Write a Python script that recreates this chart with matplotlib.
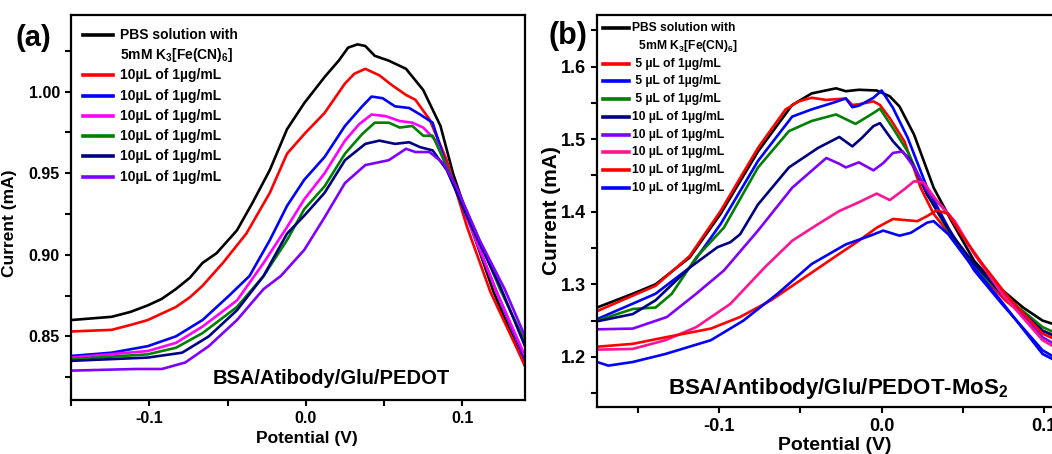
import matplotlib
matplotlib.use('Agg')
import matplotlib.pyplot as plt
from matplotlib.ticker import MultipleLocator, FormatStrFormatter

plt.rcParams['font.family'] = ['Liberation Sans', 'DejaVu Sans']
plt.rcParams['font.weight'] = 'bold'
plt.rcParams['axes.labelweight'] = 'bold'
plt.rcParams['mathtext.fontset'] = 'custom'
plt.rcParams['mathtext.rm'] = 'Liberation Sans:bold'
plt.rcParams['mathtext.bf'] = 'Liberation Sans:bold'
plt.rcParams['mathtext.it'] = 'Liberation Sans:bold'

# ---- panel (a): BSA/Atibody/Glu/PEDOT ----
a_black_x = [-0.150, -0.137, -0.124, -0.112, -0.101, -0.092, -0.083, -0.074, -0.066, -0.057, -0.044, -0.034,
             -0.023, -0.012, -0.001, 0.012, 0.021, 0.027, 0.033, 0.038, 0.044, 0.053, 0.064, 0.075,
             0.086, 0.094, 0.107, 0.120, 0.140]
a_black_y = [0.860, 0.861, 0.862, 0.865, 0.869, 0.873, 0.879, 0.886, 0.895, 0.901, 0.915, 0.932,
             0.952, 0.977, 0.993, 1.009, 1.019, 1.027, 1.029, 1.028, 1.022, 1.019, 1.014, 1.001,
             0.979, 0.950, 0.913, 0.877, 0.832]
a_red_x = [-0.150, -0.124, -0.112, -0.101, -0.092, -0.083, -0.074, -0.066, -0.053, -0.038, -0.023, -0.012,
           -0.001, 0.012, 0.025, 0.031, 0.038, 0.047, 0.055, 0.064, 0.070, 0.079, 0.090, 0.103, 0.118, 0.140]
a_red_y = [0.853, 0.854, 0.857, 0.860, 0.864, 0.868, 0.874, 0.881, 0.895, 0.913, 0.938, 0.962,
           0.974, 0.987, 1.005, 1.011, 1.014, 1.010, 1.004, 0.998, 0.995, 0.983, 0.958, 0.917, 0.877, 0.832]
a_blue_x = [-0.150, -0.124, -0.101, -0.092, -0.083, -0.066, -0.049, -0.036, -0.023, -0.012, -0.001, 0.012,
            0.025, 0.036, 0.042, 0.049, 0.057, 0.066, 0.073, 0.081, 0.090, 0.107, 0.122, 0.140]
a_blue_y = [0.838, 0.840, 0.844, 0.847, 0.850, 0.860, 0.875, 0.887, 0.909, 0.930, 0.946, 0.960,
            0.979, 0.991, 0.997, 0.996, 0.991, 0.990, 0.986, 0.981, 0.954, 0.913, 0.877, 0.836]
a_mag_x = [-0.150, -0.101, -0.083, -0.066, -0.044, -0.027, -0.012, -0.001, 0.012, 0.025, 0.034,
           0.042, 0.051, 0.060, 0.068, 0.075, 0.083, 0.092, 0.107, 0.122, 0.140]
a_mag_y = [0.837, 0.841, 0.846, 0.856, 0.872, 0.895, 0.917, 0.934, 0.950, 0.970, 0.980,
           0.986, 0.985, 0.982, 0.981, 0.978, 0.970, 0.950, 0.913, 0.877, 0.838]
a_green_x = [-0.150, -0.101, -0.083, -0.066, -0.044, -0.027, -0.012, -0.001, 0.012, 0.025, 0.036,
             0.044, 0.053, 0.060, 0.068, 0.075, 0.081, 0.092, 0.109, 0.124, 0.140]
a_green_y = [0.836, 0.839, 0.843, 0.852, 0.868, 0.887, 0.909, 0.928, 0.942, 0.962, 0.974,
             0.981, 0.981, 0.978, 0.979, 0.973, 0.973, 0.950, 0.913, 0.879, 0.847]
a_navy_x = [-0.150, -0.101, -0.079, -0.062, -0.044, -0.027, -0.012, -0.001, 0.012, 0.025, 0.038,
            0.047, 0.057, 0.066, 0.073, 0.081, 0.090, 0.107, 0.124, 0.140]
a_navy_y = [0.835, 0.837, 0.840, 0.850, 0.866, 0.887, 0.913, 0.924, 0.938, 0.958, 0.968,
            0.970, 0.968, 0.969, 0.966, 0.964, 0.952, 0.915, 0.881, 0.844]
a_purple_x = [-0.150, -0.109, -0.092, -0.077, -0.062, -0.044, -0.027, -0.016, -0.001, 0.012, 0.025,
              0.038, 0.053, 0.064, 0.070, 0.079, 0.088, 0.096, 0.111, 0.127, 0.140]
a_purple_y = [0.829, 0.830, 0.830, 0.834, 0.844, 0.860, 0.879, 0.887, 0.903, 0.923, 0.944,
              0.955, 0.958, 0.965, 0.963, 0.963, 0.956, 0.942, 0.909, 0.879, 0.850]

a_labels = ['PBS solution with\n5mM K$_3$[Fe(CN)$_6$]'] + ['10\u00b5L of 1\u00b5g/mL'] * 6
a_colors = ['black', '#ff0000', '#0000ff', '#ff00ff', '#008000', '#000080', '#8000ff']
a_x = [a_black_x, a_red_x, a_blue_x, a_mag_x, a_green_x, a_navy_x, a_purple_x]
a_y = [a_black_y, a_red_y, a_blue_y, a_mag_y, a_green_y, a_navy_y, a_purple_y]

# ---- panel (b): BSA/Antibody/Glu/PEDOT-MoS2 ----
b_black_x = [-0.175, -0.153, -0.139, -0.118, -0.099, -0.076, -0.055, -0.043, -0.028, -0.022, -0.014,
             -0.003, 0.005, 0.011, 0.020, 0.032, 0.043, 0.057, 0.070, 0.087, 0.099, 0.106]
b_black_y = [1.268, 1.287, 1.300, 1.337, 1.397, 1.483, 1.547, 1.563, 1.570, 1.566, 1.568,
             1.567, 1.559, 1.545, 1.506, 1.433, 1.387, 1.332, 1.300, 1.268, 1.250, 1.245]
b_red5_x = [-0.175, -0.139, -0.118, -0.099, -0.076, -0.059, -0.051, -0.043, -0.034, -0.022, -0.018, -0.014,
            -0.005, -0.001, 0.005, 0.014, 0.024, 0.032, 0.045, 0.059, 0.076, 0.099, 0.106]
b_red5_y = [1.263, 1.298, 1.339, 1.401, 1.488, 1.541, 1.552, 1.557, 1.554, 1.556, 1.547, 1.548,
            1.552, 1.547, 1.529, 1.497, 1.433, 1.397, 1.360, 1.319, 1.278, 1.236, 1.230]
b_blue5_x = [-0.175, -0.139, -0.118, -0.099, -0.076, -0.055, -0.043, -0.030, -0.022, -0.018, -0.014,
             -0.005, 0.000, 0.007, 0.016, 0.028, 0.041, 0.057, 0.074, 0.099, 0.106]
b_blue5_y = [1.252, 1.287, 1.323, 1.383, 1.470, 1.531, 1.541, 1.550, 1.556, 1.544, 1.546,
             1.557, 1.567, 1.543, 1.502, 1.433, 1.378, 1.319, 1.273, 1.209, 1.200]
b_green_x = [-0.175, -0.153, -0.139, -0.129, -0.114, -0.097, -0.076, -0.057, -0.043, -0.028, -0.016,
             -0.005, -0.001, 0.007, 0.016, 0.028, 0.041, 0.057, 0.074, 0.099, 0.106]
b_green_y = [1.250, 1.266, 1.268, 1.287, 1.337, 1.378, 1.461, 1.511, 1.525, 1.534, 1.521,
             1.536, 1.542, 1.515, 1.483, 1.424, 1.374, 1.323, 1.287, 1.241, 1.234]
b_navy_x = [-0.175, -0.153, -0.139, -0.118, -0.101, -0.093, -0.087, -0.076, -0.057, -0.039, -0.026, -0.018,
            -0.012, -0.005, -0.001, 0.007, 0.018, 0.028, 0.043, 0.057, 0.074, 0.099, 0.106]
b_navy_y = [1.249, 1.259, 1.278, 1.323, 1.351, 1.358, 1.369, 1.410, 1.461, 1.488, 1.503, 1.490,
            1.502, 1.518, 1.522, 1.497, 1.470, 1.424, 1.369, 1.328, 1.287, 1.236, 1.229]
b_purple_x = [-0.175, -0.153, -0.132, -0.114, -0.097, -0.076, -0.055, -0.034, -0.026, -0.022, -0.014,
              -0.005, 0.001, 0.007, 0.013, 0.020, 0.028, 0.041, 0.057, 0.074, 0.099, 0.106]
b_purple_y = [1.238, 1.239, 1.255, 1.287, 1.319, 1.374, 1.433, 1.474, 1.466, 1.461, 1.468,
              1.457, 1.467, 1.481, 1.483, 1.461, 1.429, 1.397, 1.342, 1.291, 1.227, 1.218]
b_pink_x = [-0.175, -0.153, -0.133, -0.114, -0.093, -0.072, -0.055, -0.039, -0.026, -0.014, -0.003,
            0.005, 0.014, 0.020, 0.026, 0.034, 0.045, 0.057, 0.074, 0.099, 0.106]
b_pink_y = [1.210, 1.211, 1.223, 1.241, 1.273, 1.323, 1.360, 1.383, 1.401, 1.413, 1.425,
            1.416, 1.431, 1.442, 1.440, 1.415, 1.387, 1.342, 1.287, 1.223, 1.214]
b_red10_x = [-0.175, -0.153, -0.133, -0.105, -0.087, -0.068, -0.047, -0.026, -0.014, -0.003,
             0.007, 0.022, 0.028, 0.034, 0.041, 0.049, 0.062, 0.078, 0.099, 0.106]
b_red10_y = [1.214, 1.218, 1.227, 1.239, 1.255, 1.278, 1.310, 1.342, 1.360, 1.378,
             1.390, 1.387, 1.394, 1.402, 1.397, 1.369, 1.328, 1.282, 1.232, 1.225]
b_blue10_x = [-0.175, -0.168, -0.153, -0.133, -0.105, -0.085, -0.064, -0.043, -0.022, -0.007,
              0.001, 0.011, 0.018, 0.028, 0.032, 0.041, 0.053, 0.070, 0.099, 0.106]
b_blue10_y = [1.193, 1.188, 1.193, 1.204, 1.223, 1.250, 1.287, 1.328, 1.355, 1.367,
              1.374, 1.367, 1.371, 1.385, 1.387, 1.369, 1.333, 1.287, 1.204, 1.196]

b_labels = (['PBS solution with\n  5mM K$_3$[Fe(CN)$_6$]'] + [' 5 \u00b5L of 1\u00b5g/mL'] * 3
            + ['10 \u00b5L of 1\u00b5g/mL'] * 5)
b_colors = ['black', '#ff0000', '#0000ff', '#008000', '#000080', '#8000ff', '#ff1493', '#ff0000', '#0000ff']
b_x = [b_black_x, b_red5_x, b_blue5_x, b_green_x, b_navy_x, b_purple_x, b_pink_x, b_red10_x, b_blue10_x]
b_y = [b_black_y, b_red5_y, b_blue5_y, b_green_y, b_navy_y, b_purple_y, b_pink_y, b_red10_y, b_blue10_y]


def key(ax, labels, colors, x0, x1, xt, y0, dy, fs):
    row = 0
    for lab, c in zip(labels, colors):
        y = y0 - row * dy
        ax.plot([x0, x1], [y, y], color=c, lw=2.6, transform=ax.transAxes, clip_on=False)
        for line in lab.split('\n'):
            ax.text(xt, y0 - row * dy, line, transform=ax.transAxes, fontsize=fs,
                    fontweight='bold', va='center', ha='left')
            row += 1


def style(ax):
    for s in ax.spines.values():
        s.set_linewidth(1.6)
    ax.tick_params(which='both', direction='out', width=1.5, length=4.5, labelsize=11.5)
    for t in ax.get_xticklabels() + ax.get_yticklabels():
        t.set_fontweight('bold')


fig = plt.figure(figsize=(10.52, 4.54), dpi=100)

ax1 = fig.add_axes([71 / 1052, 54 / 454, 454 / 1052, 385 / 454])
for xs, ys, c in zip(a_x, a_y, a_colors):
    ax1.plot(xs, ys, color=c, lw=1.9)
ax1.set_xlim(-0.150, 0.140)
ax1.set_ylim(0.811, 1.047)
ax1.xaxis.set_major_locator(MultipleLocator(0.1))
ax1.xaxis.set_minor_locator(MultipleLocator(0.05))
ax1.yaxis.set_major_locator(MultipleLocator(0.05))
ax1.yaxis.set_minor_locator(MultipleLocator(0.025))
ax1.xaxis.set_major_formatter(FormatStrFormatter('%.1f'))
ax1.yaxis.set_major_formatter(FormatStrFormatter('%.2f'))
ax1.set_xlabel('Potential (V)', fontsize=12.5)
ax1.set_ylabel('Current (mA)', fontsize=12.5)
ax1.xaxis.set_label_coords(0.52, -0.08)
ax1.yaxis.set_label_coords(-0.118, 0.46)
style(ax1)
key(ax1, a_labels, a_colors, 0.026, 0.093, 0.108, 0.948, 0.0525, 10)
ax1.text(0.573, 0.055, 'BSA/Atibody/Glu/PEDOT', transform=ax1.transAxes, fontsize=14.5,
         fontweight='bold', ha='center', va='center')
fig.text(33 / 1052, 1 - 38 / 454, '(a)', fontsize=21, fontweight='bold', ha='center', va='center')

ax2 = fig.add_axes([597 / 1052, 47 / 454, 457 / 1052, 392 / 454])
for xs, ys, c in zip(b_x, b_y, b_colors):
    ax2.plot(xs, ys, color=c, lw=1.9)
ax2.set_xlim(-0.175, 0.106)
ax2.set_ylim(1.131, 1.671)
ax2.xaxis.set_major_locator(MultipleLocator(0.1))
ax2.xaxis.set_minor_locator(MultipleLocator(0.05))
ax2.yaxis.set_major_locator(MultipleLocator(0.1))
ax2.yaxis.set_minor_locator(MultipleLocator(0.05))
ax2.xaxis.set_major_formatter(FormatStrFormatter('%.1f'))
ax2.yaxis.set_major_formatter(FormatStrFormatter('%.1f'))
ax2.set_xlabel('Potential (V)', fontsize=14)
ax2.set_ylabel('Current (mA)', fontsize=15)
ax2.xaxis.set_label_coords(0.52, -0.076)
ax2.yaxis.set_label_coords(-0.078, 0.5)
style(ax2)
for t in ax2.get_xticklabels() + ax2.get_yticklabels():
    t.set_fontsize(13)
key(ax2, b_labels, b_colors, 0.013, 0.070, 0.077, 0.966, 0.0452, 8.7)
ax2.text(0.528, 0.047, 'BSA/Antibody/Glu/PEDOT-MoS$_2$', transform=ax2.transAxes, fontsize=16,
         fontweight='bold', ha='center', va='center')
fig.text(568 / 1052, 1 - 36 / 454, '(b)', fontsize=22, fontweight='bold', ha='center', va='center')

fig.savefig('out.png', dpi=100)
